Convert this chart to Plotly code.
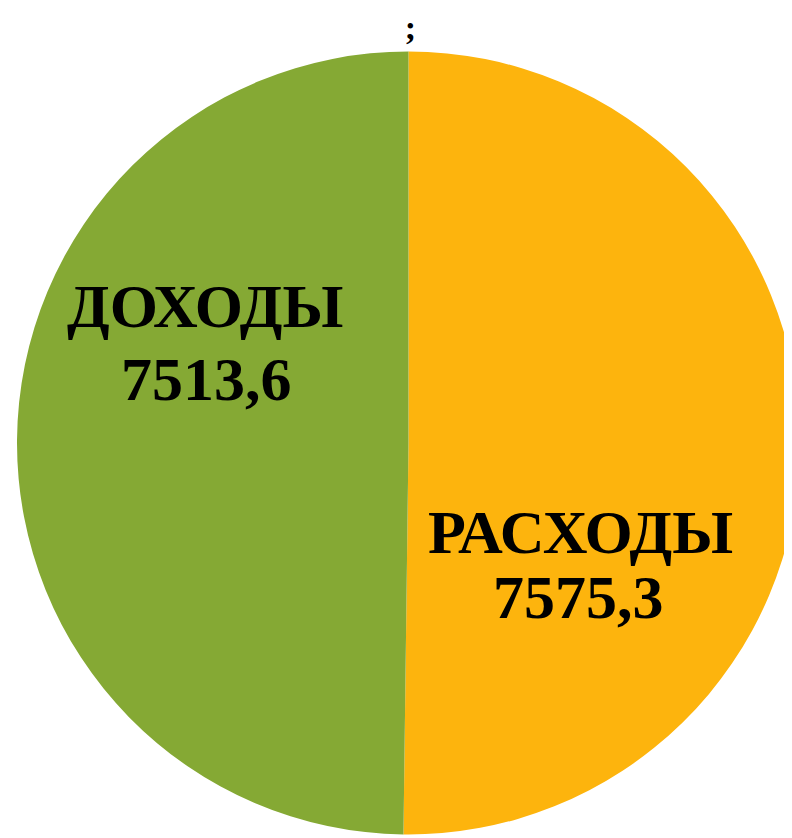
import plotly.graph_objects as go

labels = ["РАСХОДЫ", "ДОХОДЫ"]
values = [7575.3, 7513.6]
colors = ["#FDB40D", "#85A934"]
title_text = ";"

def fmt(v):
    return f"{v:.1f}".replace(".", ",")

fig = go.Figure(go.Pie(
    labels=labels,
    values=values,
    sort=False,
    direction="clockwise",
    rotation=0,
    marker=dict(colors=colors, line=dict(width=0)),
    textinfo="none",
    hoverinfo="label+value",
    showlegend=False,
))

# label placement (paper coords): (name x, name y, value x, value y)
label_pos = {
    "ДОХОДЫ": (0.240, 0.674, 0.2425, 0.581),
    "РАСХОДЫ": (0.7194, 0.387, 0.7168, 0.304),
}
lab_font = dict(family="Liberation Serif", size=62, color="black")
for lab, val in zip(labels, values):
    nx, ny, vx, vy = label_pos[lab]
    fig.add_annotation(x=nx, y=ny, xref="paper", yref="paper", xanchor="center", yanchor="middle",
                       text=f"<b>{lab}</b>", showarrow=False, font=lab_font)
    fig.add_annotation(x=vx, y=vy, xref="paper", yref="paper", xanchor="center", yanchor="middle",
                       text=f"<b>{fmt(val)}</b>", showarrow=False, font=lab_font)

fig.update_layout(
    width=792, height=838,
    margin=dict(l=9, r=0, t=42, b=10),
    paper_bgcolor="white",
    plot_bgcolor="white",
    title=dict(text=f"<b>{title_text}</b>", x=0.508, xanchor="center", y=0.991, yanchor="top",
               font=dict(family="Liberation Serif", size=34, color="black")),
)

fig.write_html("out.html")
